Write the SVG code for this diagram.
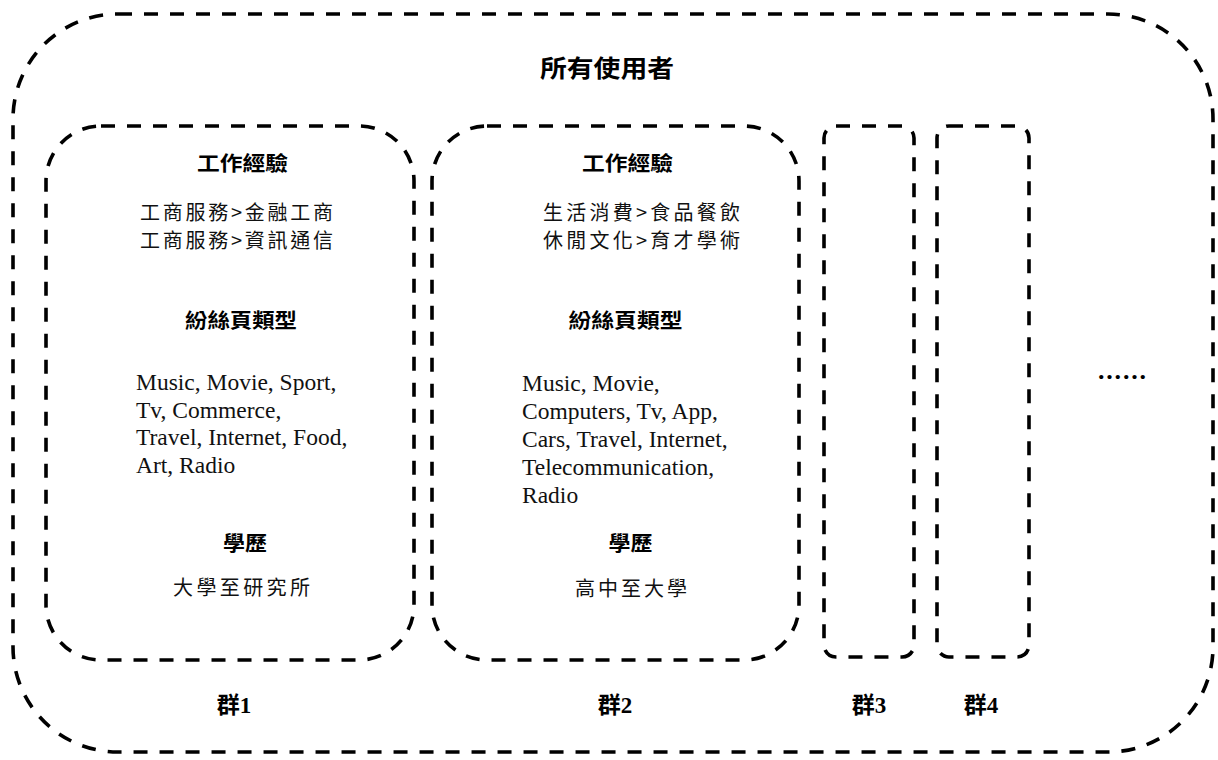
<svg xmlns="http://www.w3.org/2000/svg" width="1218" height="760" viewBox="0 0 1218 760">
<style>
.box{fill:none;stroke:#000;stroke-width:3.6;stroke-dasharray:14 12}
.cjk{font-family:"Noto Sans CJK TC","Noto Sans CJK SC",sans-serif;fill:#111}
.ttl{font-family:"Noto Sans CJK TC","Noto Sans CJK SC",sans-serif;font-weight:bold;fill:#000}
.en{font-family:"Liberation Serif","Times New Roman",serif;font-size:23.5px;fill:#111}
.lbl{font-family:"Liberation Serif","Noto Sans CJK TC",serif;font-size:23px;font-weight:bold;fill:#000}
.dots{font-family:"Liberation Serif","Times New Roman",serif;font-size:26px;font-weight:bold;fill:#000}
</style>
<rect width="1218" height="760" fill="#fff"/>
<g id="all-users">
<rect class="box" x="13" y="14" width="1200" height="738" rx="105" ry="105"/>
<text class="ttl" x="607" y="77" font-size="24" text-anchor="middle" textLength="134" lengthAdjust="spacingAndGlyphs">所有使用者</text>
</g>
<g id="cluster1">
<rect class="box" x="46" y="126" width="368" height="534" rx="55" ry="55"/>
<text class="ttl" x="242.5" y="171" font-size="20" text-anchor="middle" textLength="91" lengthAdjust="spacingAndGlyphs">工作經驗</text>
<text class="cjk" x="236.5" y="220" font-size="20" text-anchor="middle" textLength="193" lengthAdjust="spacing">工商服務&gt;金融工商</text>
<text class="cjk" x="236.5" y="248" font-size="20" text-anchor="middle" textLength="193" lengthAdjust="spacing">工商服務&gt;資訊通信</text>
<text class="ttl" x="241" y="328" font-size="20" text-anchor="middle" textLength="112" lengthAdjust="spacingAndGlyphs">紛絲頁類型</text>
<text class="en" x="136" y="390">Music, Movie, Sport,</text>
<text class="en" x="136" y="418">Tv, Commerce,</text>
<text class="en" x="136" y="445">Travel, Internet, Food,</text>
<text class="en" x="136" y="473">Art, Radio</text>
<text class="ttl" x="245" y="551" font-size="20" text-anchor="middle" textLength="44" lengthAdjust="spacingAndGlyphs">學歷</text>
<text class="cjk" x="241.5" y="595" font-size="20" text-anchor="middle" textLength="137" lengthAdjust="spacing">大學至研究所</text>
<text class="lbl" x="234" y="713" text-anchor="middle">群1</text>
</g>
<g id="cluster2">
<rect class="box" x="432" y="126" width="367" height="534" rx="55" ry="55"/>
<text class="ttl" x="627.5" y="171" font-size="20" text-anchor="middle" textLength="91" lengthAdjust="spacingAndGlyphs">工作經驗</text>
<text class="cjk" x="641.5" y="220" font-size="20" text-anchor="middle" textLength="197" lengthAdjust="spacing">生活消費&gt;食品餐飲</text>
<text class="cjk" x="641.5" y="248" font-size="20" text-anchor="middle" textLength="197" lengthAdjust="spacing">休閒文化&gt;育才學術</text>
<text class="ttl" x="625.5" y="328" font-size="20" text-anchor="middle" textLength="114" lengthAdjust="spacingAndGlyphs">紛絲頁類型</text>
<text class="en" x="522" y="391">Music, Movie,</text>
<text class="en" x="522" y="419">Computers, Tv, App,</text>
<text class="en" x="522" y="447">Cars, Travel,  Internet,</text>
<text class="en" x="522" y="475">Telecommunication,</text>
<text class="en" x="522" y="503">Radio</text>
<text class="ttl" x="630.5" y="551" font-size="20" text-anchor="middle" textLength="44" lengthAdjust="spacingAndGlyphs">學歷</text>
<text class="cjk" x="631" y="596" font-size="20" text-anchor="middle" textLength="112" lengthAdjust="spacing">高中至大學</text>
<text class="lbl" x="615" y="713" text-anchor="middle">群2</text>
</g>
<g id="cluster3">
<rect class="box" x="824" y="126" width="90" height="531" rx="12" ry="12"/>
<text class="lbl" x="869" y="713" text-anchor="middle">群3</text>
</g>
<g id="cluster4">
<rect class="box" x="937" y="126" width="92" height="531" rx="12" ry="12"/>
<text class="lbl" x="981" y="713" text-anchor="middle">群4</text>
</g>
<g id="more">
<text class="dots" x="1098" y="379" textLength="48" lengthAdjust="spacing">......</text>
</g>
<g id="connectors"/>
</svg>
